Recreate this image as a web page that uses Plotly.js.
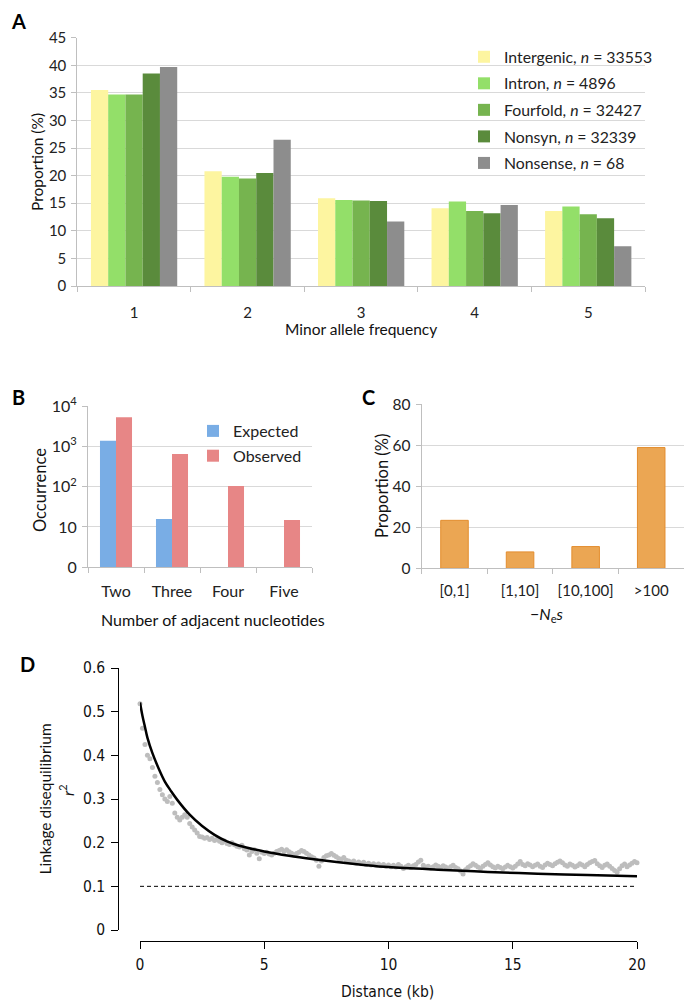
<!DOCTYPE html>
<html>
<head>
<meta charset="utf-8">
<script src="https://cdn.plot.ly/plotly-3.0.1.min.js"></script>
<style>
  html, body { margin: 0; padding: 0; background: #ffffff; }
  #chart { width: 684px; height: 1002px; }
</style>
</head>
<body>
<div id="chart"></div>
<script>
// ---------------- DATA ----------------
// Panel A: minor allele frequency spectrum
const mafCategories = ['1', '2', '3', '4', '5'];
const intergenic = [35.5, 20.8, 15.9, 14.1, 13.6];
const intron     = [34.7, 19.8, 15.6, 15.3, 14.4];
const fourfold   = [34.7, 19.5, 15.5, 13.6, 13.0];
const nonsyn     = [38.5, 20.5, 15.4, 13.2, 12.3];
const nonsense   = [39.7, 26.5, 11.7, 14.7, 7.2];
const seriesNamesA = ['Intergenic, <i>n</i> = 33553', 'Intron, <i>n</i> = 4896',
  'Fourfold, <i>n</i> = 32427', 'Nonsyn, <i>n</i> = 32339', 'Nonsense, <i>n</i> = 68'];

// Panel B: adjacent nucleotides
const adjacentCategories = ['Two', 'Three', 'Four', 'Five'];
const expectedCounts = [1370, 15.8, null, null];
const observedCounts = [5250, 645, 104, 14.9];
const occurrenceTickVals = [1, 10, 100, 1000, 10000];
const occurrenceTickText = ['0', '10', '10<sup>2</sup>', '10<sup>3</sup>', '10<sup>4</sup>'];

// Panel C: -Ne s distribution
const nesCategories = ['[0,1]', '[1,10]', '[10,100]', '>100'];
const nesProportion = [23.4, 8.0, 10.6, 58.9];

// Panel D: LD decay
const ldDistance = [
  0.0,0.1,0.2,0.3,0.4,0.5,0.6,0.7,0.8,0.9,
  1.0,1.1,1.2,1.3,1.4,1.5,1.6,1.7,1.8,1.9,
  2.0,2.1,2.2,2.3,2.4,2.5,2.6,2.7,2.8,2.9,
  3.0,3.1,3.2,3.3,3.4,3.5,3.6,3.7,3.8,3.9,
  4.0,4.1,4.2,4.3,4.4,4.5,4.6,4.7,4.8,4.9,
  5.0,5.1,5.2,5.3,5.4,5.5,5.6,5.7,5.8,5.9,
  6.0,6.1,6.2,6.3,6.4,6.5,6.6,6.7,6.8,6.9,
  7.0,7.1,7.2,7.3,7.4,7.5,7.6,7.7,7.8,7.9,
  8.0,8.1,8.2,8.3,8.4,8.5,8.6,8.7,8.8,8.9,
  9.0,9.1,9.2,9.3,9.4,9.5,9.6,9.7,9.8,9.9,
  10.0,10.1,10.2,10.3,10.4,10.5,10.6,10.7,10.8,10.9,
  11.0,11.1,11.2,11.3,11.4,11.5,11.6,11.7,11.8,11.9,
  12.0,12.1,12.2,12.3,12.4,12.5,12.6,12.7,12.8,12.9,
  13.0,13.1,13.2,13.3,13.4,13.5,13.6,13.7,13.8,13.9,
  14.0,14.1,14.2,14.3,14.4,14.5,14.6,14.7,14.8,14.9,
  15.0,15.1,15.2,15.3,15.4,15.5,15.6,15.7,15.8,15.9,
  16.0,16.1,16.2,16.3,16.4,16.5,16.6,16.7,16.8,16.9,
  17.0,17.1,17.2,17.3,17.4,17.5,17.6,17.7,17.8,17.9,
  18.0,18.1,18.2,18.3,18.4,18.5,18.6,18.7,18.8,18.9,
  19.0,19.1,19.2,19.3,19.4,19.5,19.6,19.7,19.8,19.9,
  20.0
];
const ldR2 = [
  0.518,0.462,0.425,0.400,0.392,0.372,0.352,0.338,0.322,0.310,
  0.300,0.294,0.306,0.290,0.268,0.258,0.252,0.258,0.264,0.258,
  0.244,0.236,0.229,0.222,0.214,0.213,0.210,0.212,0.207,0.210,
  0.205,0.208,0.203,0.200,0.204,0.198,0.196,0.200,0.195,0.192,
  0.190,0.194,0.186,0.183,0.172,0.180,0.184,0.176,0.163,0.178,
  0.175,0.178,0.174,0.172,0.176,0.180,0.182,0.185,0.180,0.184,
  0.179,0.176,0.172,0.175,0.178,0.182,0.180,0.176,0.172,0.168,
  0.165,0.160,0.146,0.158,0.166,0.170,0.172,0.175,0.171,0.168,
  0.164,0.162,0.166,0.160,0.158,0.155,0.158,0.153,0.156,0.152,
  0.155,0.150,0.153,0.149,0.152,0.148,0.151,0.147,0.150,0.146,
  0.149,0.145,0.148,0.144,0.150,0.146,0.141,0.145,0.148,0.143,
  0.147,0.150,0.156,0.160,0.148,0.144,0.146,0.142,0.145,0.149,
  0.146,0.143,0.147,0.144,0.141,0.145,0.148,0.143,0.140,0.135,
  0.128,0.138,0.143,0.147,0.152,0.148,0.144,0.141,0.146,0.150,
  0.154,0.149,0.145,0.142,0.146,0.143,0.140,0.144,0.148,0.145,
  0.142,0.146,0.151,0.157,0.150,0.147,0.152,0.149,0.145,0.148,
  0.151,0.146,0.143,0.149,0.153,0.150,0.147,0.152,0.155,0.158,
  0.154,0.149,0.146,0.151,0.148,0.144,0.147,0.152,0.149,0.145,
  0.150,0.154,0.157,0.159,0.152,0.147,0.143,0.148,0.151,0.146,
  0.141,0.136,0.132,0.140,0.147,0.151,0.145,0.149,0.153,0.157,
  0.154
];
const fitDistance = [0, 0.1, 0.2, 0.3, 0.5, 0.75, 1, 1.25, 1.5, 2, 2.5, 3, 3.5, 4, 5, 6, 7, 8, 9, 10, 12, 14, 16, 18, 20];
const fitR2 = [0.521, 0.490, 0.465, 0.440, 0.405, 0.370, 0.340, 0.318, 0.298, 0.264, 0.238, 0.218, 0.203, 0.193, 0.180, 0.170, 0.162, 0.155, 0.149, 0.144, 0.138, 0.133, 0.129, 0.126, 0.123];
const baselineDistance = [0, 20];
const baselineR2 = [0.1, 0.1];

// ---------------- STYLE ----------------
const W = 684, H = 1002;
const px = v => v / W;
const py = v => 1 - v / H;
const FONT = 'Lato, "Open Sans", sans-serif';
const NARROW = '"Liberation Sans Narrow", "DejaVu Sans Condensed", "Arial Narrow", sans-serif';
const colorsA = ['#fdf5a0', '#93df69', '#76b44f', '#5a8b3c', '#8d8d8d'];
const excelAxis = '#bfbfbf';
const excelGrid = '#d9d9d9';

const traces = [];
const seriesA = [intergenic, intron, fourfold, nonsyn, nonsense];
seriesA.forEach((vals, i) => {
  traces.push({
    type: 'bar', x: mafCategories, y: vals, name: seriesNamesA[i],
    marker: { color: colorsA[i] }, xaxis: 'x', yaxis: 'y',
    legend: 'legend', legendgroup: 'a' + i, hoverinfo: 'y'
  });
});

traces.push({
  type: 'bar', x: adjacentCategories, y: expectedCounts, name: 'Expected',
  marker: { color: '#79ade5' }, xaxis: 'x2', yaxis: 'y2',
  width: 0.286, offset: -0.286, legend: 'legend2', legendgroup: 'b0'
});
traces.push({
  type: 'bar', x: adjacentCategories, y: observedCounts, name: 'Observed',
  marker: { color: '#e78686' }, xaxis: 'x2', yaxis: 'y2',
  width: 0.286, offset: 0, legend: 'legend2', legendgroup: 'b1'
});

traces.push({
  type: 'bar', x: nesCategories, y: nesProportion, name: '-Ne s',
  marker: { color: '#eba653', line: { color: '#e38d2e', width: 1 } },
  xaxis: 'x3', yaxis: 'y3', width: 0.42, showlegend: false
});

traces.push({
  type: 'scatter', mode: 'lines', x: baselineDistance, y: baselineR2,
  line: { color: '#000000', width: 1, dash: '4px,3px' },
  xaxis: 'x4', yaxis: 'y4', showlegend: false, cliponaxis: false
});
traces.push({
  type: 'scatter', mode: 'markers', x: ldDistance, y: ldR2,
  marker: { color: '#bdbdbd', size: 5 },
  xaxis: 'x4', yaxis: 'y4', showlegend: false, cliponaxis: false
});
traces.push({
  type: 'scatter', mode: 'lines', x: fitDistance, y: fitR2,
  line: { color: '#000000', width: 2.5, shape: 'spline', smoothing: 1 },
  xaxis: 'x4', yaxis: 'y4', showlegend: false, cliponaxis: false
});

function ann(text, x, y, opts) {
  return Object.assign({
    text: text, xref: 'paper', yref: 'paper', x: px(x), y: py(y),
    xanchor: 'center', yanchor: 'middle', showarrow: false,
    font: { family: FONT, size: 15.5, color: '#111111' }
  }, opts || {});
}

const tickFont = { family: FONT, size: 15, color: '#222222' };

const layout = {
  width: W, height: H,
  margin: { l: 0, r: 0, t: 0, b: 0 },
  paper_bgcolor: '#ffffff', plot_bgcolor: 'rgba(0,0,0,0)',
  showlegend: true,
  barmode: 'group', bargap: 0.24, bargroupgap: 0,
  font: { family: FONT, size: 15, color: '#222222' },
  // Panel A
  xaxis: {
    domain: [px(77.3), px(645)], anchor: 'y', type: 'category',
    showline: true, linecolor: excelAxis, linewidth: 1,
    ticks: 'outside', tickson: 'boundaries', ticklen: 5, tickcolor: excelAxis,
    showgrid: false, tickfont: tickFont, ticklabelstandoff: 13, tickangle: 0, fixedrange: true
  },
  yaxis: {
    domain: [py(286), py(37.7)], anchor: 'x', range: [0, 45], dtick: 5,
    showline: true, linecolor: excelAxis, ticks: 'outside', ticklen: 5, tickcolor: excelAxis,
    showgrid: true, gridcolor: excelGrid, zeroline: false, tickfont: tickFont,
    ticklabelstandoff: 2, fixedrange: true
  },
  // Panel B
  xaxis2: {
    domain: [px(88), px(312)], anchor: 'y2', type: 'category',
    showline: true, linecolor: excelAxis, ticks: 'outside', tickson: 'boundaries',
    ticklen: 5, tickcolor: excelAxis, showgrid: false, tickangle: 0,
    tickfont: { family: FONT, size: 16, color: '#222222' }, ticklabelstandoff: 9
  },
  yaxis2: {
    domain: [py(567.3), py(406)], anchor: 'x2', type: 'log', range: [0, 4],
    tickvals: occurrenceTickVals, ticktext: occurrenceTickText,
    showline: true, linecolor: excelAxis, ticks: 'outside', ticklen: 5, tickcolor: excelAxis,
    showgrid: true, gridcolor: excelGrid, zeroline: false,
    tickfont: { family: FONT, size: 16, color: '#222222' }, ticklabelstandoff: 2
  },
  // Panel C
  xaxis3: {
    domain: [px(421.7), px(684)], anchor: 'y3', type: 'category',
    showline: true, linecolor: excelAxis, ticks: 'outside', tickson: 'boundaries',
    ticklen: 5, tickcolor: excelAxis, showgrid: false, tickangle: 0,
    tickfont: { family: FONT, size: 15, color: '#222222' }, ticklabelstandoff: 9
  },
  yaxis3: {
    domain: [py(568.3), py(404.3)], anchor: 'x3', range: [0, 80], dtick: 20,
    showline: true, linecolor: excelAxis, ticks: 'outside', ticklen: 5, tickcolor: excelAxis,
    showgrid: true, gridcolor: excelGrid, zeroline: false,
    tickfont: { family: FONT, size: 15.5, color: '#222222' }, ticklabelstandoff: 2
  },
  // Panel D
  xaxis4: {
    domain: [px(140), px(637)], anchor: 'free', position: py(940.7),
    range: [0, 20], tickvals: [0, 5, 10, 15, 20],
    showline: true, linecolor: '#000000', linewidth: 1,
    ticks: 'outside', ticklen: 7, tickcolor: '#000000', showgrid: false, zeroline: false,
    tickfont: { family: NARROW, size: 15.5, color: '#111111' }, ticklabelstandoff: 3
  },
  yaxis4: {
    domain: [py(930), py(668)], anchor: 'free', position: px(118.3),
    range: [0, 0.6], tickvals: [0, 0.1, 0.2, 0.3, 0.4, 0.5, 0.6],
    ticktext: ['0', '0.1', '0.2', '0.3', '0.4', '0.5', '0.6'],
    showline: true, linecolor: '#000000', linewidth: 1,
    ticks: 'outside', ticklen: 7, tickcolor: '#000000', showgrid: false, zeroline: false,
    tickfont: { family: NARROW, size: 15.5, color: '#111111' }, ticklabelstandoff: 3
  },
  legend: {
    x: px(464), y: py(40), xanchor: 'left', yanchor: 'top',
    bgcolor: 'rgba(0,0,0,0)', borderwidth: 0, tracegroupgap: 3,
    font: { family: FONT, size: 15.8, color: '#222222' }, traceorder: 'grouped'
  },
  legend2: {
    x: px(193), y: py(414), xanchor: 'left', yanchor: 'top',
    bgcolor: 'rgba(0,0,0,0)', borderwidth: 0, tracegroupgap: 1,
    font: { family: FONT, size: 16, color: '#222222' }, traceorder: 'grouped'
  },
  annotations: [
    ann('<b>A</b>', 18, 21, { font: { family: FONT, size: 20, color: '#000' } }),
    ann('Proportion (%)', 37, 162, { textangle: -90 }),
    ann('Minor allele frequency', 361, 329),
    ann('<b>B</b>', 18, 397, { font: { family: FONT, size: 20, color: '#000' } }),
    ann('Occurrence', 40, 490, { textangle: -90, font: { family: FONT, size: 16.5, color: '#111' } }),
    ann('Number of adjacent nucleotides', 213, 619, { font: { family: FONT, size: 16, color: '#111' } }),
    ann('<b>C</b>', 368, 397, { font: { family: FONT, size: 20, color: '#000' } }),
    ann('Proportion (%)', 382, 486, { textangle: -90, font: { family: FONT, size: 16.5, color: '#111' } }),
    ann('\u2212<i>N</i><sub>e</sub><i>s</i>', 547, 614, { font: { family: FONT, size: 16, color: '#111' } }),
    ann('<b>D</b>', 27, 664, { font: { family: FONT, size: 20, color: '#000' } }),
    ann('Linkage disequilibrium', 44.5, 799, { textangle: -90 }),
    ann('<i>r</i><sup>2</sup>', 66, 790, { textangle: -90 }),
    ann('Distance (kb)', 387, 992, { font: { family: NARROW, size: 15.5, color: '#111' } })
  ]
};

Plotly.newPlot('chart', traces, layout, { staticPlot: true, displayModeBar: false });
</script>
</body>
</html>
